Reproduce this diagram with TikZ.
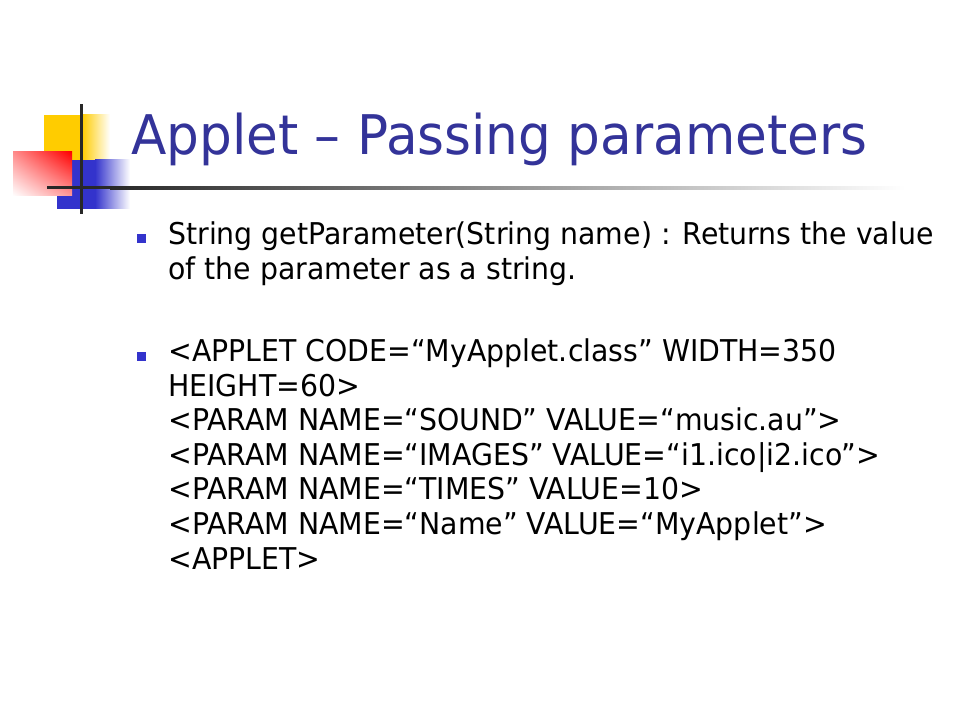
\documentclass[tikz,border=0pt]{standalone}
\usepackage{fontspec}
\setmainfont{DejaVu Sans}[FakeStretch=0.945]
\usetikzlibrary{shadings}
\definecolor{titleblue}{RGB}{51,51,153}
\definecolor{bulletblue}{RGB}{51,51,204}
\definecolor{decoyellow}{RGB}{255,204,0}
\definecolor{decored}{RGB}{255,0,0}
\definecolor{decoline}{RGB}{40,40,40}
\begin{document}
\begin{tikzpicture}[x=0.75pt,y=-0.75pt,
    slidetitle/.style={anchor=base west,inner sep=0,text=titleblue,font=\fontsize{41}{48}\selectfont},
    bodyline/.style={anchor=base west,inner sep=0,font=\fontsize{22.5}{26}\selectfont},
    bulletsq/.style={fill=bulletblue,inner sep=0,minimum size=6.75pt}]
    \useasboundingbox[fill=white] (0,0) rectangle (960,720);

    % corner decoration
    \fill[decoyellow] (44,115) rectangle (82,160);
    \shade[left color=decoyellow,right color=white] (82,115) rectangle (110,160);
    \fill[bulletblue] (57,160) rectangle (95,209);
    \shade[left color=bulletblue,right color=white] (95,160) rectangle (130,209);
    \shade[lower left=white,upper right=decored,upper left=decored!45,lower right=decored!40] (13,152) rectangle (72,196);
    \fill[decoline] (79.5,104) rectangle (82.5,214);
    \fill[decoline] (47,186.5) rectangle (110,189.5);
    \shade[left color=decoline,middle color=gray!45,right color=white] (110,186.5) rectangle (905,189.5);

    \node[slidetitle] (title) at (131,155) {Applet – Passing parameters};

    \node[bulletsq] (bul1) at (141.5,238.5) {};
    \node[bodyline] (p1a) at (168,245) {String getParameter(String name) : Returns the value};
    \node[bodyline] (p1b) at (168,279.5) {of the parameter as a string.};

    \node[bulletsq] (bul2) at (141.5,356.5) {};
    \node[bodyline] (p2a) at (168,361.5) {<APPLET CODE=“MyApplet.class” WIDTH=350};
    \node[bodyline] (p2b) at (168,396) {HEIGHT=60>};
    \node[bodyline] (p2c) at (168,430.7) {<PARAM NAME=“SOUND” VALUE=“music.au”>};
    \node[bodyline] (p2d) at (168,465.3) {<PARAM NAME=“IMAGES” VALUE=“i1.ico|i2.ico”>};
    \node[bodyline] (p2e) at (168,499.9) {<PARAM NAME=“TIMES” VALUE=10>};
    \node[bodyline] (p2f) at (168,534.5) {<PARAM NAME=“Name” VALUE=“MyApplet”>};
    \node[bodyline] (p2g) at (168,569) {<APPLET>};
\end{tikzpicture}
\end{document}
